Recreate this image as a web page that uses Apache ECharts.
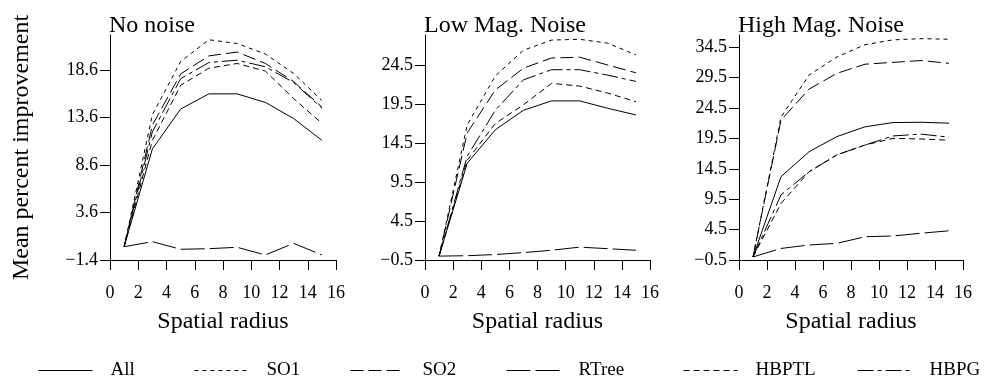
<!DOCTYPE html>
<html>
<head>
<meta charset="utf-8">
<script src="https://cdn.jsdelivr.net/npm/echarts@6/dist/echarts.min.js"></script>
<style>
    html, body { margin: 0; padding: 0; background: #fff; }
    #main { width: 986px; height: 381px; }
</style>
</head>
<body>
<div id="main"></div>
<script>
// spatial radius (x)
var radius = [1, 3, 5, 7, 9, 11, 13, 15];
var xTicks = [0, 16, 2];

// No noise
var all0 = [0, 10.3, 14.5, 16.1, 16.1, 15.2, 13.5, 11.2];
var so1_0 = [0, 13.9, 19.5, 21.8, 21.4, 20.3, 18.25, 15.4];
var so2_0 = [0, 12.8, 18.2, 20.1, 20.5, 19.3, 17.4, 14.7];
var rtree0 = [0, 0.53, -0.27, -0.21, -0.06, -0.87, 0.36, -0.87];
var hbptl0 = [0, 11.2, 17.0, 18.8, 19.3, 18.5, 15.6, 13.0];
var hbpg0 = [0, 12.1, 17.7, 19.4, 19.65, 18.95, 17.3, 14.6];
var yTicks0 = [-1.4, 3.6, 8.6, 13.6, 18.6];

// Low Mag. Noise
var all1 = [0, 11.9, 16.2, 18.7, 19.9, 19.9, 18.95, 18.1];
var so1_1 = [0, 16.8, 23.1, 26.4, 27.7, 27.8, 27.3, 25.8];
var so2_1 = [0, 15.8, 21.3, 24.1, 25.4, 25.5, 24.5, 23.5];
var rtree1 = [0, 0.05, 0.2, 0.45, 0.75, 1.15, 0.95, 0.75];
var hbptl1 = [0, 12.3, 17.0, 19.4, 22.15, 21.8, 20.9, 19.8];
var hbpg1 = [0, 12.8, 18.7, 22.6, 23.9, 23.9, 23.2, 22.4];
var yTicks1 = [-0.5, 4.5, 9.5, 14.5, 19.5, 24.5];

// High Mag. Noise
var all2 = [0, 13.2, 17.3, 19.8, 21.4, 22.1, 22.15, 22.0];
var so1_2 = [0, 23.0, 29.9, 32.9, 34.9, 35.7, 35.9, 35.8];
var so2_2 = [0, 22.5, 27.6, 30.2, 31.7, 32.0, 32.3, 31.85];
var rtree2 = [0, 1.4, 1.97, 2.24, 3.33, 3.45, 3.9, 4.3];
var hbptl2 = [0, 8.8, 14.0, 16.8, 18.4, 19.5, 19.4, 19.2];
var hbpg2 = [0, 10.2, 14.0, 16.8, 18.4, 19.9, 20.2, 19.7];
var yTicks2 = [-0.5, 4.5, 9.5, 14.5, 19.5, 24.5, 29.5, 34.5];

var methods = ['All', 'SO1', 'SO2', 'RTree', 'HBPTL', 'HBPG'];
var panelTitles = ['No noise', 'Low Mag. Noise', 'High Mag. Noise'];

(function () {
    var font = "'Liberation Serif', 'DejaVu Serif', serif";
    var chart = echarts.init(document.getElementById('main'));

    // line dash per method
    var dashes = {
        All: 'solid',
        SO1: [4, 4],
        SO2: [13, 5],
        RTree: [24, 5],
        HBPTL: [6, 4],
        HBPG: [16, 4, 4, 4]
    };

    var panels = [
        { data: [all0, so1_0, so2_0, rtree0, hbptl0, hbpg0], ticks: yTicks0, min: -1.4, max: 22.3, left: 110, width: 226 },
        { data: [all1, so1_1, so2_1, rtree1, hbptl1, hbpg1], ticks: yTicks1, min: -0.5, max: 28.35, left: 425, width: 225 },
        { data: [all2, so1_2, so2_2, rtree2, hbptl2, hbpg2], ticks: yTicks2, min: -0.5, max: 36.5, left: 739, width: 224 }
    ];

    function fmt(v) {
        return v.toFixed(1).replace('-', '\u2212');
    }

    var grids = [], xAxes = [], yAxes = [], titles = [], series = [];
    for (var p = 0; p < panels.length; p++) {
        var pn = panels[p];
        grids.push({ left: pn.left, width: pn.width, top: 35, height: 225, outerBoundsMode: 'none' });
        titles.push({
            text: panelTitles[p], left: pn.left - 1, top: 14, padding: 0,
            textStyle: { fontFamily: font, fontSize: 24, fontWeight: 'normal', color: '#000' }
        });
        xAxes.push({
            type: 'value', gridIndex: p, min: xTicks[0], max: xTicks[1], interval: xTicks[2],
            name: 'Spatial radius', nameLocation: 'middle', nameGap: 50,
            nameTextStyle: { fontFamily: font, fontSize: 24, color: '#000' },
            axisLine: { onZero: false, lineStyle: { color: '#000', width: 1 } },
            axisTick: { length: 10, lineStyle: { color: '#000' } },
            axisLabel: { fontFamily: font, fontSize: 18, color: '#000', margin: 24 },
            splitLine: { show: false }
        });
        yAxes.push({
            type: 'value', gridIndex: p, min: pn.min, max: pn.max,
            name: p === 0 ? 'Mean percent improvement' : '',
            nameLocation: 'middle', nameGap: 76, nameRotate: 90,
            nameTextStyle: { fontFamily: font, fontSize: 24, color: '#000' },
            axisLine: { show: true, onZero: false, lineStyle: { color: '#000', width: 1 } },
            axisTick: { show: true, length: 10, customValues: pn.ticks, lineStyle: { color: '#000' } },
            axisLabel: { fontFamily: font, fontSize: 18, color: '#000', margin: 12, customValues: pn.ticks, formatter: fmt },
            splitLine: { show: false }
        });
        for (var m = 0; m < methods.length; m++) {
            var pts = [];
            for (var i = 0; i < radius.length; i++) {
                pts.push([radius[i], pn.data[m][i]]);
            }
            series.push({
                name: methods[m], type: 'line', xAxisIndex: p, yAxisIndex: p,
                data: pts, symbol: 'none', silent: true, animation: false,
                lineStyle: { color: '#000', width: 1, type: dashes[methods[m]] }
            });
        }
    }

    // one legend per item so each can sit where the original has it
    var legendLeft = [38, 194, 350, 506, 683, 857];
    var legends = [];
    for (var k = 0; k < methods.length; k++) {
        legends.push({
            data: [methods[k]], left: legendLeft[k], top: 361, padding: 0,
            itemWidth: 54, itemHeight: 14, selectedMode: false,
            itemStyle: { opacity: 0 },
            lineStyle: { color: '#000', width: 1 },
            textStyle: { fontFamily: font, fontSize: 19, color: '#000', padding: [0, 0, 0, 13] }
        });
    }

    chart.setOption({
        animation: false,
        backgroundColor: '#fff',
        title: titles,
        grid: grids,
        xAxis: xAxes,
        yAxis: yAxes,
        legend: legends,
        series: series
    });
})();
</script>
</body>
</html>
